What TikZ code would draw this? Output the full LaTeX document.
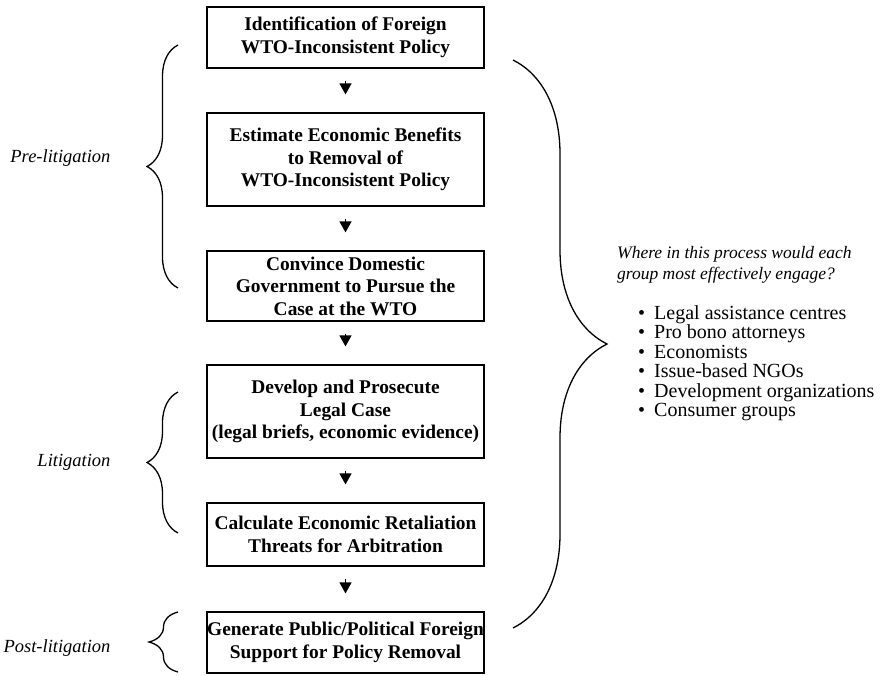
\documentclass[tikz,border=0pt]{standalone}
\usepackage{fontspec}
\setmainfont{Liberation Serif}
\usetikzlibrary{arrows.meta,decorations.pathreplacing}

\begin{document}
\begin{tikzpicture}[x=1pt,y=-1pt,
    stage/.style={draw,line width=1.2pt,minimum width=277pt,inner sep=0pt,align=center,
      font=\fontsize{19.4}{22.5}\selectfont\bfseries},
    flow/.style={-{Triangle[width=12pt,length=11pt]},line width=1.3pt,shorten <=12pt,shorten >=18pt},
    curly/.style={decorate,decoration={brace,amplitude=#1},line width=1.3pt},
    phase/.style={font=\fontsize{18.5}{22}\selectfont\itshape}]
   \useasboundingbox (0,0) rectangle (885,675);
   %\draw[very thin,gray,step=50] (0,0) grid (885,675) ;
   % the six steps of a dispute
   \node[stage,minimum height=61pt] (ident) at (345.5,37.5) {Identification of Foreign\\WTO-Inconsistent Policy};
   \node[stage,minimum height=93pt] (estim) at (345.5,159.5) {Estimate Economic Benefits\\to Removal of\\WTO-Inconsistent Policy};
   \node[stage,minimum height=70pt] (convince) at (345.5,286) {Convince Domestic\\Government to Pursue the\\Case at the WTO};
   \node[stage,minimum height=93pt] (develop) at (345.5,411.5) {Develop and Prosecute\\Legal Case\\(legal briefs, economic evidence)};
   \node[stage,minimum height=63pt] (calc) at (345.5,534.5) {Calculate Economic Retaliation\\Threats for Arbitration};
   \node[stage,minimum height=61pt] (support) at (345.5,642.5) {Generate Public/Political Foreign\\Support for Policy Removal};
   \draw[flow] (ident) -- (estim) ;
   \draw[flow] (estim) -- (convince) ;
   \draw[flow] (convince) -- (develop) ;
   \draw[flow] (develop) -- (calc) ;
   \draw[flow] (calc) -- (support) ;
   % phases on the left
   \draw[curly=31pt] (178,288) -- (178,45) ;
   \draw[curly=31pt] (178,533) -- (178,392) ;
   \draw[curly=29pt] (178,672) -- (178,612) ;
   \node[phase,anchor=east] (pre) at (114,158) {Pre-litigation};
   \node[phase,anchor=east] (lit) at (114,462) {Litigation};
   \node[phase,anchor=east] (post) at (114,648) {Post-litigation};
   % who could engage
   \draw[curly=94pt] (513,60) -- (513,628) ;
   \node[anchor=west,align=left,inner sep=0pt,font=\fontsize{17.5}{20.5}\selectfont\itshape] (ask) at (617,265)
      {Where in this process would each\\group most effectively engage?};
   \node[anchor=north west,align=left,inner sep=0pt,font=\fontsize{20}{19.5}\selectfont] (groups) at (638,305)
      {\textbullet\hspace{9pt}Legal assistance centres\\
       \textbullet\hspace{9pt}Pro bono attorneys\\
       \textbullet\hspace{9pt}Economists\\
       \textbullet\hspace{9pt}Issue-based NGOs\\
       \textbullet\hspace{9pt}Development organizations\\
       \textbullet\hspace{9pt}Consumer groups};
\end{tikzpicture}
\end{document}
